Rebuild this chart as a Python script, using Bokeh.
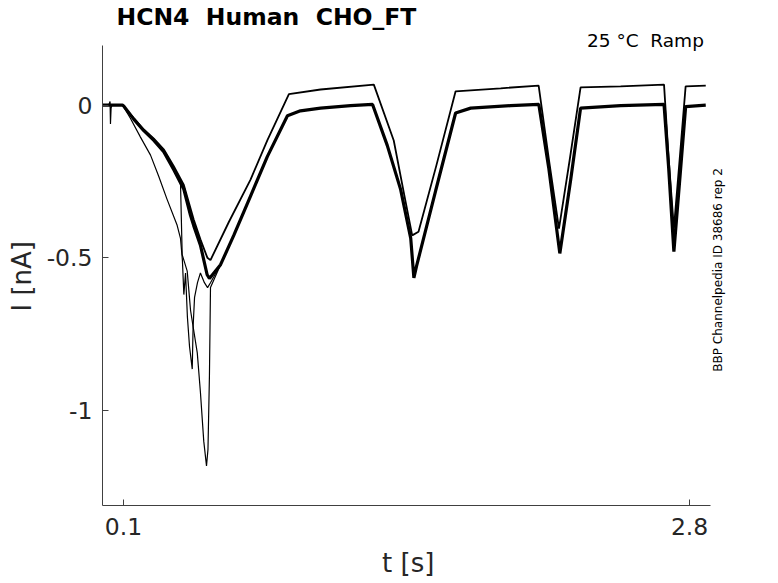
from math import pi
from bokeh.plotting import figure
from bokeh.models import Range1d, FixedTicker, Label
from bokeh.embed import file_html
from bokeh.resources import INLINE

# ---------------- data ----------------
# sweep A: thick trace, returns to 0 nA after each ramp
t_a = [0.000, 0.095, 0.101, 0.149, 0.197, 0.245,
       0.292, 0.340, 0.388, 0.420, 0.435, 0.467, 0.499, 0.510, 0.563, 0.626, 0.706,
       0.786, 0.882, 0.944, 1.040, 1.183, 1.288, 1.358, 1.422, 1.470, 1.485, 1.498,
       1.589, 1.684, 1.756, 1.946, 2.081, 2.128, 2.181, 2.233, 2.280, 2.471, 2.678,
       2.700, 2.725, 2.753, 2.781, 2.877]
i_a = [0.000, 0.000, -0.003, -0.046, -0.084, -0.116,
       -0.153, -0.212, -0.276, -0.362, -0.395, -0.459, -0.556, -0.568, -0.523, -0.427, -0.298,
       -0.169, -0.035, -0.019, -0.010, -0.002, 0.002, -0.132, -0.277, -0.437, -0.566, -0.527,
       -0.280, -0.026, -0.010, -0.002, 0.002, -0.205, -0.486, -0.244, -0.010, -0.002, 0.002,
       -0.205, -0.480, -0.244, -0.005, 0.000]

# sweep B: thinner trace that settles about +0.06 nA after the first ramp
t_b = [0.000, 0.095, 0.149, 0.197, 0.245, 0.292, 0.340, 0.388, 0.435, 0.467, 0.500,
       0.515, 0.602, 0.706, 0.786, 0.889, 1.040, 1.294, 1.389, 1.437, 1.477, 1.507,
       1.593, 1.684, 1.899, 2.080, 2.128, 2.177, 2.228, 2.280, 2.471, 2.678, 2.700,
       2.725, 2.753, 2.781, 2.877]
i_b = [0.000, 0.000, -0.043, -0.080, -0.110, -0.145, -0.200, -0.262, -0.375, -0.440, -0.500,
       -0.508, -0.384, -0.244, -0.116, 0.036, 0.051, 0.067, -0.116, -0.287, -0.427, -0.415,
       -0.196, 0.045, 0.055, 0.064, -0.174, -0.405, -0.180, 0.058, 0.061, 0.067, -0.174,
       -0.405, -0.174, 0.061, 0.064]

# sweep C: noisy trace (step artefact, steeper first ramp, spike near -0.87 nA)
t_c = [0.000, 0.030, 0.036, 0.038, 0.041, 0.045, 0.095, 0.133, 0.181, 0.229, 0.268,
       0.308, 0.356, 0.372, 0.381, 0.388, 0.396, 0.405, 0.415, 0.428, 0.432, 0.439,
       0.453, 0.467, 0.486, 0.501, 0.515, 0.563, 0.626, 0.706, 0.786, 0.882]
i_c = [0.000, 0.000, 0.012, -0.062, -0.010, 0.000, 0.000, -0.043, -0.105, -0.164, -0.233,
       -0.309, -0.394, -0.437, -0.508, -0.621, -0.550, -0.695, -0.791, -0.865, -0.727, -0.630,
       -0.582, -0.550, -0.582, -0.598, -0.582, -0.523, -0.427, -0.298, -0.169, -0.035]

# sweep D: trace with the large inward spike near -1.18 nA
t_d = [0.000, 0.095, 0.149, 0.197, 0.245, 0.292, 0.340, 0.372, 0.380, 0.404, 0.420,
       0.452, 0.467, 0.483, 0.496, 0.503, 0.510, 0.515, 0.525, 0.563, 0.626, 0.706,
       0.786, 0.882]
i_d = [0.000, 0.000, -0.046, -0.084, -0.116, -0.153, -0.212, -0.255, -0.490, -0.544, -0.673,
       -0.812, -0.941, -1.102, -1.182, -1.128, -0.887, -0.598, -0.582, -0.523, -0.427, -0.298,
       -0.169, -0.035]

# axis extents of the reference and its ticks
x_lim = (0.0, 2.9)
y_lim = (-1.312, 0.196)
x_ticks = [0.1, 2.8]
x_tick_labels = ["0.1", "2.8"]
y_ticks = [-1.0, -0.5, 0.0]
y_tick_labels = ["-1", "-0.5", "0"]

NB = "\u00a0"
title_text = "HCN4 " + NB + "Human " + NB + "CHO_FT"
cond_text = "25 \u00b0C " + NB + "Ramp"
id_text = "BBP Channelpedia ID 38686 rep 2"
# axis titles are centred on the (slightly larger) frame; non-breaking spaces
# re-centre them on the drawn axes
x_title = "t [s]" + NB + NB
y_title = "I [nA]" + NB + NB

FONT = "DejaVu Sans"
TXT = "#262626"

# the plotting frame is slightly larger than the drawn axes, so that the
# two annotations beside the axes are not clipped
p = figure(width=770, height=580,
           x_range=Range1d(0, 2.995), y_range=Range1d(-1.312, 0.2443),
           output_backend="svg", toolbar_location=None,
           min_border_left=102, min_border_right=40,
           min_border_top=28, min_border_bottom=68)

p.title.text = title_text
p.title.text_font = FONT
p.title.text_font_size = "23.5px"
p.title.text_font_style = "bold"
p.title.text_color = "#000000"
p.title.align = "left"
p.title.offset = 14
p.title.standoff = 0

p.outline_line_color = None
p.grid.visible = False
p.background_fill_color = "white"
p.border_fill_color = "white"

for ax in (p.xaxis[0], p.yaxis[0]):
    ax.axis_line_color = "#404040"
    ax.axis_line_width = 1
    ax.major_tick_line_color = "#404040"
    ax.major_tick_in = 6
    ax.major_tick_out = 0
    ax.minor_tick_line_color = None
    ax.major_label_text_font = FONT
    ax.major_label_text_font_size = "23.5px"
    ax.major_label_text_color = TXT
    ax.axis_label_text_font = FONT
    ax.axis_label_text_font_size = "26px"
    ax.axis_label_text_font_style = "normal"
    ax.axis_label_text_color = TXT

p.xaxis.bounds = x_lim
p.xaxis.ticker = FixedTicker(ticks=x_ticks)
p.xaxis.major_label_overrides = dict(zip(x_ticks, x_tick_labels))
p.xaxis.axis_label = x_title
p.xaxis.major_label_standoff = 12
p.xaxis.axis_label_standoff = 10

p.yaxis.bounds = y_lim
p.yaxis.ticker = FixedTicker(ticks=y_ticks)
p.yaxis.major_label_overrides = dict(zip(y_ticks, y_tick_labels))
p.yaxis.axis_label = y_title
p.yaxis.major_label_standoff = 10
p.yaxis.axis_label_standoff = 7

# traces
p.line(t_b, i_b, line_color="black", line_width=1.8)
p.line(t_c, i_c, line_color="black", line_width=1.2)
p.line(t_d, i_d, line_color="black", line_width=1.2)
p.line(t_a, i_a, line_color="black", line_width=3.2)

p.add_layout(Label(x=2.868, y=0.212, text=cond_text, text_align="right",
                   text_baseline="middle", text_font=FONT,
                   text_font_size="18.5px", text_color="#000000"))
p.add_layout(Label(x=2.9358, y=-0.54, text=id_text, angle=pi / 2,
                   text_align="center", text_baseline="middle", text_font=FONT,
                   text_font_size="12px", text_color="#000000"))

open("out.html", "w").write(file_html(p, INLINE))
